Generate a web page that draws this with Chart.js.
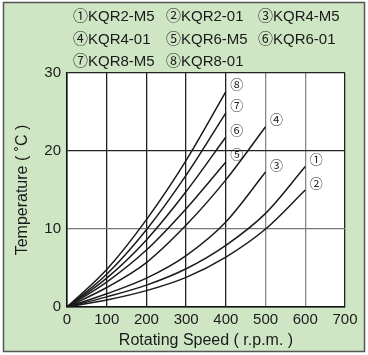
<!DOCTYPE html>
<html>
<head>
<meta charset="utf-8">
<script src="https://cdn.jsdelivr.net/npm/chart.js@4/dist/chart.umd.min.js"></script>
<style>
html,body{margin:0;padding:0;background:#fff;}
#wrap{position:relative;width:368px;height:355px;}
</style>
</head>
<body>
<div id="wrap"><canvas id="c" width="368" height="355"></canvas></div>
<script>
// ---- data ----
const speeds = [0, 100, 200, 300, 400, 500, 600];
const seriesNames = ['KQR2-M5', 'KQR2-01', 'KQR4-M5', 'KQR4-01', 'KQR6-M5', 'KQR6-01', 'KQR8-M5', 'KQR8-01'];
const seriesMarks = ['①', '②', '③', '④', '⑤', '⑥', '⑦', '⑧'];
const kqr2M5 = [0, 1.3, 2.8, 4.9, 7.9, 12.0, 18.0];
const kqr201 = [0, 0.9, 2.1, 3.8, 6.4, 10.0, 15.0];
const kqr4M5 = [0, 1.7, 3.7, 6.6, 10.9, 17.3];
const kqr401 = [0, 2.5, 5.7, 10.5, 16.3, 23.1];
const kqr6M5 = [0, 3.2, 7.3, 12.6, 18.6];
const kqr601 = [0, 3.7, 8.6, 14.8, 21.8];
const kqr8M5 = [0, 4.2, 9.9, 16.9, 24.9];
const kqr801 = [0, 4.8, 11.2, 18.8, 27.6];
const xTicks = [0, 100, 200, 300, 400, 500, 600, 700];
const yTicks = [0, 10, 20, 30];
const xTitle = 'Rotating Speed ( r.p.m. )';
const yTitle = 'Temperature ( ˚C )';

const allSeries = [kqr2M5, kqr201, kqr4M5, kqr401, kqr6M5, kqr601, kqr8M5, kqr801];

const datasets = allSeries.map((vals, i) => ({
  label: seriesNames[i],
  data: vals.map((v, j) => ({x: speeds[j], y: v})),
  borderColor: '#1a1a1a',
  borderWidth: 1.5,
  pointRadius: 0,
  fill: false,
  cubicInterpolationMode: 'monotone'
}));

const FONT = '"Liberation Sans", Arial, "Noto Sans CJK JP", sans-serif';

const decor = {
  id: 'decor',
  beforeDraw(chart) {
    const {ctx, chartArea: a, width, height} = chart;
    ctx.save();
    ctx.fillStyle = '#ffffff';
    ctx.fillRect(0, 0, width, height);
    ctx.fillStyle = '#cfe6c5';
    ctx.fillRect(3, 2, 362, 350);
    ctx.strokeStyle = '#555';
    ctx.lineWidth = 1.5;
    ctx.strokeRect(3.5, 2.5, 361, 349);
    ctx.fillStyle = '#ffffff';
    ctx.fillRect(a.left, a.top, a.right - a.left, a.bottom - a.top);
    // legend
    ctx.fillStyle = '#1a1a1a';
    ctx.font = '15px ' + FONT;
    ctx.textBaseline = 'middle';
    ctx.textAlign = 'left';
    const colX = [73, 166, 258];
    const rowY = [17, 40, 62];
    seriesNames.forEach((n, i) => {
      const r = Math.floor(i / 3), c = i % 3;
      ctx.fillText(seriesMarks[i] + n, colX[c], rowY[r]);
    });
    ctx.restore();
  },
  afterDatasetsDraw(chart) {
    const {ctx} = chart;
    ctx.save();
    ctx.fillStyle = '#222';
    ctx.font = '13px ' + FONT;
    ctx.textAlign = 'center';
    ctx.textBaseline = 'middle';
    chart.data.datasets.forEach((ds, i) => {
      const meta = chart.getDatasetMeta(i);
      const last = meta.data[meta.data.length - 1];
      ctx.fillText(seriesMarks[i], last.x + 11, last.y - 6);
    });
    ctx.restore();
  }
};

new Chart(document.getElementById('c'), {
  type: 'line',
  data: {datasets},
  options: {
    responsive: false,
    animation: false,
    layout: {padding: {left: 0, top: 73, right: 23, bottom: 0}},
    plugins: {legend: {display: false}, tooltip: {enabled: false}},
    scales: {
      x: {
        type: 'linear', min: 0, max: 700,
        afterBuildTicks: s => { s.ticks = xTicks.map(v => ({value: v})); },
        afterFit: s => { s.height = 48; },
        grid: {
          drawTicks: false,
          color: c => (c.tick && (c.tick.value === 500 || c.tick.value === 600)) ? '#888' : '#222',
          lineWidth: 1.3
        },
        border: {display: true, color: '#111', width: 1.5},
        ticks: {color: '#1a1a1a', padding: 4, font: {size: 15, family: FONT}, maxRotation: 0},
        title: {display: true, text: xTitle, color: '#1a1a1a', font: {size: 16, family: FONT}, padding: {top: 0, bottom: 5}}
      },
      y: {
        type: 'linear', min: 0, max: 30,
        afterBuildTicks: s => { s.ticks = yTicks.map(v => ({value: v})); },
        afterFit: s => { s.width = 67; },
        grid: {
          drawTicks: false,
          color: c => (c.tick && c.tick.value === 10) ? '#777' : '#222',
          lineWidth: 1.3
        },
        border: {display: true, color: '#111', width: 1.5},
        ticks: {color: '#1a1a1a', padding: 6, font: {size: 15, family: FONT}},
        title: {display: true, text: yTitle, color: '#1a1a1a', font: {size: 16, family: FONT}, padding: {top: 13, bottom: 0}}
      }
    }
  },
  plugins: [decor]
});
</script>
</body>
</html>
